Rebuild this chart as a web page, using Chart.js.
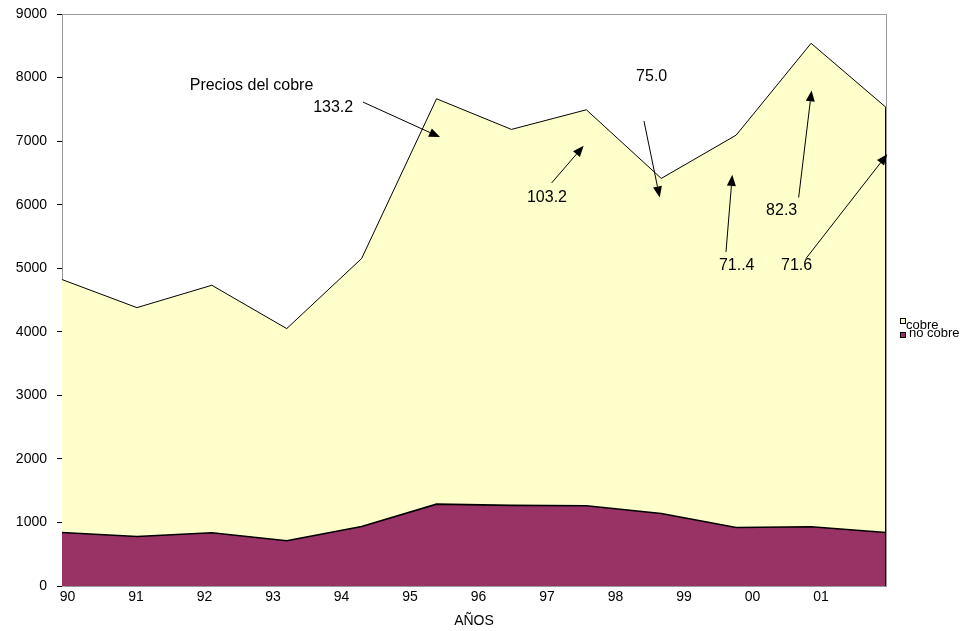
<!DOCTYPE html>
<html>
<head>
<meta charset="utf-8">
<script src="https://cdn.jsdelivr.net/npm/chart.js@4/dist/chart.umd.min.js"></script>
<style>
  html, body { margin: 0; padding: 0; background: #ffffff; }
  canvas { display: block; }
</style>
</head>
<body>
<canvas id="chart" width="970" height="631"></canvas>
<script>
// Exportaciones por año (millones de US$)
const years   = ['90', '91', '92', '93', '94', '95', '96', '97', '98', '99', '00', '01'];
const noCobre = [842, 780, 838, 712, 937, 1288, 1268, 1263, 1142, 921, 932, 842];
const cobre   = [3980, 3600, 3894, 3338, 4216, 6378, 5916, 6230, 5271, 6173, 7607, 6689];
const yTicks  = [0, 1000, 2000, 3000, 4000, 5000, 6000, 7000, 8000, 9000];

// Precio del cobre (centavos US$/lb) con su flecha; posiciones en (índice de año, valor)
const priceNotes = [
  { text: '133.2', at: [3.62, 7520],  from: [4.018, 7614], to: [5.046, 7063] },
  { text: '103.2', at: [6.474, 6118], from: [6.537, 6343], to: [6.964, 6926] },
  { text: '75.0',  at: [7.872, 8013], from: [7.769, 7315], to: [7.979, 6113] },
  { text: '71..4', at: [9.007, 5036], from: [8.864, 5257], to: [8.948, 6469] },
  { text: '82.3',  at: [9.607, 5902], from: [9.834, 6113], to: [10.007, 7798] },
  { text: '71.6',  at: [9.807, 5047], from: [9.932, 5153], to: [11.017, 6795] }
];
const notesTitle = { text: 'Precios del cobre', at: [2.53, 7866] };

const FONT = "'Liberation Sans', Arial, sans-serif";
Chart.defaults.font.family = FONT;
Chart.defaults.color = '#000000';

// Marco gris del área de trazado
const plotFrame = {
  id: 'plotFrame',
  beforeDatasetsDraw(chart) {
    const { ctx, chartArea: a } = chart;
    ctx.save();
    ctx.strokeStyle = '#9a9a9a';
    ctx.lineWidth = 1;
    ctx.strokeRect(Math.round(a.left) + 0.5, Math.round(a.top) + 0.5,
                   Math.round(a.right - a.left), Math.round(a.bottom - a.top));
    ctx.restore();
  },
  afterDatasetsDraw(chart) {
    // borde derecho del área apilada
    const { ctx, scales } = chart;
    const last = years.length - 1;
    const x = scales.x.getPixelForValue(last);
    const yTop = scales.y.getPixelForValue(noCobre[last] + cobre[last]);
    const yBot = scales.y.getPixelForValue(0);
    ctx.save();
    ctx.strokeStyle = '#000000';
    ctx.lineWidth = 1;
    ctx.beginPath();
    ctx.moveTo(Math.round(x) - 0.5, yTop);
    ctx.lineTo(Math.round(x) - 0.5, yBot);
    ctx.stroke();
    ctx.restore();
  }
};

// Rótulos de precios y flechas
const priceArrows = {
  id: 'priceArrows',
  afterDatasetsDraw(chart) {
    const { ctx, scales } = chart;
    const px = p => [scales.x.getPixelForValue(p[0]), scales.y.getPixelForValue(p[1])];
    ctx.save();
    ctx.fillStyle = '#000000';
    ctx.strokeStyle = '#000000';
    ctx.lineWidth = 1;
    ctx.font = '16px ' + FONT;
    ctx.textAlign = 'center';
    ctx.textBaseline = 'middle';
    const t = px(notesTitle.at);
    ctx.fillText(notesTitle.text, t[0], t[1]);
    priceNotes.forEach(n => {
      const p = px(n.at);
      ctx.fillText(n.text, p[0], p[1]);
      const [x0, y0] = px(n.from);
      const [x1, y1] = px(n.to);
      const ang = Math.atan2(y1 - y0, x1 - x0);
      const len = 11, half = 4.5;
      const bx = x1 - len * Math.cos(ang), by = y1 - len * Math.sin(ang);
      ctx.beginPath();
      ctx.moveTo(x0, y0);
      ctx.lineTo(bx, by);
      ctx.stroke();
      ctx.beginPath();
      ctx.moveTo(x1, y1);
      ctx.lineTo(bx + half * Math.sin(ang), by - half * Math.cos(ang));
      ctx.lineTo(bx - half * Math.sin(ang), by + half * Math.cos(ang));
      ctx.closePath();
      ctx.fill();
    });
    ctx.restore();
  }
};

// Leyenda a la derecha
const sideLegend = {
  id: 'sideLegend',
  afterDraw(chart) {
    const { ctx } = chart;
    const items = [
      { label: 'cobre',    color: '#FFFFCC', box: [900, 318], text: [906, 329] },
      { label: 'no cobre', color: '#993366', box: [900, 332], text: [909, 337] }
    ];
    ctx.save();
    ctx.font = '13px ' + FONT;
    ctx.textAlign = 'left';
    ctx.textBaseline = 'alphabetic';
    items.forEach(it => {
      ctx.fillStyle = it.color;
      ctx.fillRect(it.box[0], it.box[1], 6, 6);
      ctx.strokeStyle = '#000000';
      ctx.lineWidth = 1;
      ctx.strokeRect(it.box[0] + 0.5, it.box[1] + 0.5, 5, 5);
      ctx.fillStyle = '#000000';
      ctx.fillText(it.label, it.text[0], it.text[1]);
    });
    ctx.restore();
  }
};

new Chart(document.getElementById('chart'), {
  type: 'line',
  data: {
    labels: years,
    datasets: [
      {
        label: 'no cobre',
        data: noCobre,
        backgroundColor: '#993366',
        borderColor: '#000000',
        borderWidth: 1.6,
        fill: 'origin',
        pointRadius: 0,
        tension: 0
      },
      {
        label: 'cobre',
        data: cobre,
        backgroundColor: '#FFFFCC',
        borderColor: '#000000',
        borderWidth: 1,
        fill: '-1',
        pointRadius: 0,
        tension: 0
      }
    ]
  },
  options: {
    responsive: false,
    animation: false,
    events: [],
    layout: { padding: { top: 14, right: 84, left: 0, bottom: 0 } },
    plugins: {
      legend: { display: false },
      tooltip: { enabled: false },
      filler: { propagate: false }
    },
    scales: {
      x: {
        type: 'category',
        display: false,
        offset: false
      },
      yearAxis: {
        type: 'linear',
        position: 'bottom',
        min: -0.08,
        max: 11.95,
        afterBuildTicks: s => { s.ticks = years.map((_, i) => ({ value: i })); },
        afterFit: s => { s.height = 45; },
        grid: { drawOnChartArea: false, drawTicks: false },
        border: { color: '#000000', width: 1 },
        ticks: {
          autoSkip: false,
          maxRotation: 0,
          padding: 3,
          color: '#000000',
          font: { size: 14 },
          callback: v => years[v]
        },
        title: {
          display: true,
          text: 'AÑOS',
          color: '#000000',
          font: { size: 14 },
          padding: { top: 0, bottom: 1 }
        }
      },
      y: {
        stacked: true,
        min: 0,
        max: 9000,
        afterBuildTicks: s => { s.ticks = yTicks.map(v => ({ value: v })); },
        afterFit: s => { s.width = 62; s.paddingTop = 0; s.paddingBottom = 0; },
        grid: { drawOnChartArea: false, tickLength: 5, color: '#000000', tickColor: '#000000' },
        border: { color: '#000000', width: 1 },
        ticks: { padding: 10, color: '#000000', font: { size: 14 }, callback: v => String(v) }
      }
    }
  },
  plugins: [plotFrame, priceArrows, sideLegend]
});
</script>
</body>
</html>
